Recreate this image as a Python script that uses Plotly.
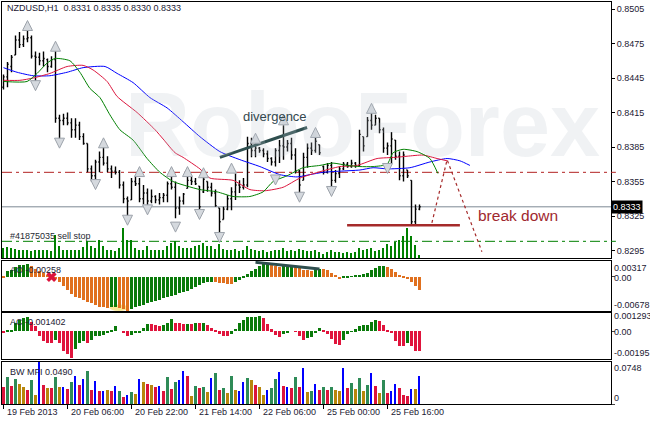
import plotly.graph_objects as go

# ---------------- data ----------------
symbol = "NZDUSD,H1"
bars = list(range(105))
tick_pos = [0, 16, 32, 48, 64, 80, 96]
tick_labels = ["19 Feb 2013", "20 Feb 06:00", "20 Feb 22:00", "21 Feb 14:00",
               "22 Feb 06:00", "25 Feb 00:00", "25 Feb 16:00"]
price_ticks = [0.8505, 0.8475, 0.8445, 0.8415, 0.8385, 0.8355, 0.8325, 0.8295]

opens = [0.8437,0.8446,0.8455,0.8465,0.8478,0.8474,0.8479,0.8480,0.8464,0.8463,
         0.8460,0.8461,0.8455,0.8461,0.8410,0.8408,0.8410,0.8406,0.8400,0.8404,
         0.8394,0.8388,0.8366,0.8360,0.8372,0.8376,0.8371,0.8366,0.8364,0.8363,
         0.8352,0.8340,0.8339,0.8355,0.8353,0.8340,0.8345,0.8338,0.8342,0.8339,
         0.8341,0.8343,0.8353,0.8350,0.8332,0.8338,0.8349,0.8356,0.8355,0.8351,
         0.8346,0.8355,0.8350,0.8345,0.8332,0.8322,0.8331,0.8340,0.8346,0.8352,
         0.8350,0.8352,0.8388,0.8382,0.8384,0.8382,0.8379,0.8375,0.8372,0.8382,
         0.8386,0.8385,0.8388,0.8378,0.8364,0.8356,0.8376,0.8384,0.8382,0.8387,
         0.8368,0.8363,0.8369,0.8356,0.8362,0.8366,0.8370,0.8368,0.8371,0.8369,
         0.8394,0.8394,0.8408,0.8404,0.8410,0.8400,0.8384,0.8386,0.8391,0.8377,
         0.8360,0.8365,0.8356,0.8320,0.8331]
highs = [0.8448,0.8459,0.8465,0.8482,0.8485,0.8482,0.8488,0.8482,0.8468,0.8467,
         0.8468,0.8462,0.8464,0.8472,0.8413,0.8414,0.8415,0.8410,0.8410,0.8407,
         0.8397,0.8388,0.8369,0.8374,0.8381,0.8385,0.8377,0.8369,0.8368,0.8365,
         0.8355,0.8342,0.8358,0.8360,0.8358,0.8352,0.8349,0.8348,0.8343,0.8345,
         0.8345,0.8355,0.8360,0.8355,0.8342,0.8345,0.8361,0.8359,0.8358,0.8351,
         0.8360,0.8355,0.8354,0.8348,0.8332,0.8333,0.8343,0.8350,0.8362,0.8356,
         0.8358,0.8394,0.8393,0.8388,0.8385,0.8384,0.8382,0.8376,0.8384,0.8391,
         0.8404,0.8391,0.8393,0.8384,0.8365,0.8380,0.8388,0.8389,0.8393,0.8387,
         0.8369,0.8371,0.8372,0.8365,0.8368,0.8372,0.8372,0.8374,0.8372,0.8400,
         0.8394,0.8411,0.8415,0.8413,0.8410,0.8402,0.8389,0.8398,0.8391,0.8381,
         0.8381,0.8365,0.8356,0.8335,0.8335]
lows = [0.8435,0.8437,0.8450,0.8465,0.8471,0.8472,0.8476,0.8462,0.8442,0.8456,
        0.8455,0.8450,0.8454,0.8406,0.8391,0.8404,0.8404,0.8393,0.8393,0.8391,
        0.8387,0.8363,0.8355,0.8355,0.8363,0.8369,0.8363,0.8358,0.8361,0.8349,
        0.8336,0.8324,0.8339,0.8351,0.8337,0.8335,0.8333,0.8336,0.8336,0.8335,
        0.8337,0.8337,0.8348,0.8323,0.8326,0.8335,0.8349,0.8352,0.8352,0.8328,
        0.8345,0.8346,0.8342,0.8333,0.8310,0.8322,0.8330,0.8330,0.8339,0.8345,
        0.8348,0.8350,0.8376,0.8376,0.8380,0.8376,0.8372,0.8369,0.8368,0.8371,
        0.8374,0.8381,0.8374,0.8362,0.8345,0.8356,0.8367,0.8378,0.8380,0.8378,
        0.8361,0.8362,0.8350,0.8354,0.8358,0.8365,0.8367,0.8367,0.8367,0.8368,
        0.8381,0.8394,0.8400,0.8404,0.8397,0.8380,0.8378,0.8371,0.8374,0.8356,
        0.8355,0.8358,0.8317,0.8317,0.8330]
closes = [0.8446,0.8457,0.8463,0.8478,0.8474,0.8479,0.8480,0.8464,0.8463,0.8460,
          0.8462,0.8455,0.8461,0.8410,0.8408,0.8410,0.8406,0.8400,0.8404,0.8394,
          0.8388,0.8366,0.8360,0.8372,0.8376,0.8371,0.8366,0.8364,0.8363,0.8352,
          0.8340,0.8338,0.8355,0.8353,0.8340,0.8345,0.8338,0.8342,0.8339,0.8341,
          0.8343,0.8353,0.8350,0.8332,0.8338,0.8344,0.8356,0.8355,0.8353,0.8333,
          0.8357,0.8350,0.8345,0.8334,0.8320,0.8331,0.8340,0.8346,0.8352,0.8350,
          0.8352,0.8388,0.8382,0.8384,0.8382,0.8379,0.8375,0.8372,0.8382,0.8386,
          0.8385,0.8388,0.8378,0.8364,0.8352,0.8376,0.8384,0.8382,0.8390,0.8380,
          0.8363,0.8369,0.8356,0.8362,0.8366,0.8370,0.8368,0.8371,0.8369,0.8396,
          0.8386,0.8408,0.8404,0.8410,0.8400,0.8384,0.8386,0.8392,0.8377,0.8360,
          0.8378,0.8360,0.8320,0.8331,0.8333]

volumes = [400,440,400,360,320,320,320,280,320,320,320,320,280,920,480,320,320,320,320,320,
           440,680,480,400,720,480,320,320,280,400,1200,720,720,400,320,320,480,320,320,320,
           320,480,600,680,480,400,400,400,480,520,600,480,480,360,560,360,320,320,360,280,
           320,480,360,320,280,320,240,280,320,320,400,280,320,280,360,320,280,280,320,240,
           160,240,320,240,240,200,240,200,240,400,320,360,400,280,320,400,560,480,640,720,
           880,1200,880,520,120]

# Alligator lines (bar position, price)
jaw_x = [0,3.4,7.4,11.6,15.9,19.9,25.4,28.4,32.4,36.6,40.9,44.9,49.1,54.1,59.1,64.1,69.1,
         73.4,76.6,79.9,84.1,89.1,92.4,95.9,101.6,106.6,110.9,114.1,116.6]
jaw_y = [0.8454,0.8450,0.8447,0.8447,0.8450,0.8454,0.8455,0.8449,0.8441,0.8428,0.8419,
         0.8407,0.8394,0.8381,0.8374,0.8368,0.8361,0.8359,0.8361,0.8363,0.8364,0.8365,
         0.8367,0.8366,0.8367,0.8372,0.8375,0.8373,0.8369]
teeth_x = [0,4.1,7.4,11.6,15.9,19.9,22.4,25.9,28.4,33.4,37.9,39.9,42.9,44.9,49.1,51.6,
           57.4,61.6,65.4,69.9,74.1,78.6,84.1,88.4,93.4,97.9,100.9,104.9,108.4,110.9]
teeth_y = [0.8443,0.8443,0.8445,0.8449,0.8455,0.8456,0.8452,0.8442,0.8429,0.8415,0.8400,
           0.8392,0.8380,0.8376,0.8366,0.8358,0.8356,0.8348,0.8347,0.8350,0.8358,0.8363,
           0.8368,0.8369,0.8375,0.8376,0.8377,0.8378,0.8375,0.8373]
lips_x = [0,5.9,8.4,10.9,12.9,16.6,19.1,21.6,24.1,26.6,29.1,32.4,35.9,39.1,42.4,45.9,49.1,
          53.4,57.4,61.6,64.9,67.4,70.9,74.9,79.1,82.4,85.9,89.1,92.4,95.9,97.4,99.9,103.4,
          106.6,108.6]
lips_y = [0.8442,0.8442,0.8449,0.8458,0.8462,0.8460,0.8450,0.8436,0.8428,0.8413,0.8400,
          0.8391,0.8375,0.8363,0.8355,0.8351,0.8348,0.8346,0.8342,0.8342,0.8346,0.8355,
          0.8360,0.8367,0.8369,0.8371,0.8369,0.8368,0.8368,0.8370,0.8380,0.8383,0.8381,
          0.8375,0.8362]

# Fractals
frac_up_x = [6, 13, 25, 34, 42, 46, 50, 57, 63, 70, 78, 92]
frac_up_y = [0.8495,0.8477,0.8393,0.8368,0.8368,0.8368,0.8367,0.8371,0.8397,0.8413,0.8402,0.8423]
frac_dn_x = [8, 14, 23, 31, 36, 43, 49, 54, 68, 74, 82, 96]
frac_dn_y = [0.8434,0.8384,0.8348,0.8317,0.8326,0.8311,0.8322,0.8302,0.8352,0.8337,0.8342,0.8362]

# order / analysis levels
bid_level = 0.8333
stop_level = 0.8363
sell_stop_level = 0.8303
order_label = "#41875035 sell stop"
breakdown_x = [85.9, 114.1]
breakdown_y = [0.8317, 0.8317]
forecast_x = [107.1, 110.9, 119.6]
forecast_y = [0.8319, 0.8374, 0.8294]
divergence_x = [54.1, 75.9]
divergence_y = [0.8376, 0.8402]

# Awesome Oscillator
ao = [-0.0001,0.0011,0.0014,0.0019,0.0023,0.0024,0.0025,0.0022,0.0016,0.0012,
      0.0007,0.0004,0.0001,-0.0004,-0.0011,-0.0018,-0.0026,-0.0034,-0.0039,-0.0041,
      -0.0046,-0.0049,-0.0052,-0.0056,-0.0059,-0.0060,-0.0061,-0.0060,-0.0059,-0.0061,
      -0.0064,-0.0067,-0.0064,-0.0060,-0.0057,-0.0055,-0.0051,-0.0049,-0.0047,-0.0045,
      -0.0042,-0.0040,-0.0038,-0.0035,-0.0032,-0.0030,-0.0028,-0.0025,-0.0021,-0.0016,
      -0.0013,-0.0011,-0.0010,-0.0011,-0.0012,-0.0013,-0.0014,-0.0015,-0.0011,-0.0006,
      -0.0001,0.0005,0.0012,0.0016,0.0022,0.0025,0.0027,0.0023,0.0022,0.0020,
      0.0021,0.0022,0.0023,0.0019,0.0018,0.0014,0.0013,0.0012,0.0015,0.0016,
      0.0015,0.0013,0.0008,0.0004,-0.0004,-0.0002,-0.0001,0.00005,0.0002,0.0004,
      0.0005,0.0007,0.0013,0.0017,0.0021,0.0022,0.0019,0.0015,0.0009,0.0003,
      -0.0001,-0.0004,-0.0011,-0.0019,-0.00258]
ao_div_x = [63, 79]
ao_div_y = [0.0029, 0.0016]

# Accelerator Oscillator
ac = [-0.00007,0.00005,0.00012,0.00058,0.00081,0.00095,0.00104,0.00069,0.00035,-0.00035,
      -0.00069,-0.00081,-0.00085,-0.00058,-0.00081,-0.00139,-0.0016,-0.0019,-0.00127,-0.00081,
      -0.00069,-0.00081,-0.00058,-0.00035,-0.00030,-0.00023,-0.00012,0.00012,0.00035,0.0,
      -0.00012,-0.00035,-0.00023,-0.00012,-0.00005,0.00023,0.00053,0.00049,0.00046,0.00039,
      0.00046,0.00058,0.00085,0.00062,0.00060,0.00053,0.00055,0.00053,0.00058,0.00056,
      0.00062,0.00048,0.00025,0.00007,-0.0002,-0.00032,-0.00035,-0.0002,0.0002,0.0006,
      0.0008,0.00098,0.0010,0.00104,0.00106,0.00097,0.00055,0.00014,-0.00028,-0.0004,
      -0.0002,-0.0001,0.0,-0.00002,-0.00032,-0.0006,-0.00049,-0.0004,-0.0001,0.00025,
      0.00012,-0.00016,-0.00055,-0.0009,-0.00095,-0.0006,-0.0002,-0.00002,0.00014,0.00037,
      0.00044,0.00048,0.00065,0.00083,0.00076,0.00048,0.00007,-0.0001,-0.0007,-0.0010,
      -0.00102,-0.0008,-0.0010,-0.00136,-0.001402]

# Market Facilitation Index and bar state (g=green, r=squat, y=fade, b=fake)
bw_mfi = [0.0297,0.0475,0.0326,0.0445,0.0356,0.0297,0.0249,0.0433,0.0160,0.0748,
          0.0338,0.0285,0.0285,0.0475,0.0297,0.0297,0.0267,0.0386,0.0504,0.0338,
          0.0445,0.0593,0.0255,0.0415,0.0237,0.0237,0.0255,0.0237,0.0326,0.0237,
          0.0119,0.0160,0.0219,0.0178,0.0445,0.0397,0.0356,0.0338,0.0308,0.0315,
          0.0237,0.0475,0.0267,0.0397,0.0433,0.0593,0.0504,0.0148,0.0315,0.0279,
          0.0308,0.0219,0.0457,0.0546,0.0255,0.0290,0.0190,0.0493,0.0255,0.0237,
          0.0386,0.0457,0.0433,0.0344,0.0308,0.0166,0.0255,0.0279,0.0445,0.0564,
          0.0326,0.0308,0.0290,0.0486,0.0308,0.0646,0.0208,0.0237,0.0356,0.0255,
          0.0308,0.0255,0.0308,0.0255,0.0237,0.0646,0.0290,0.0379,0.0272,0.0468,
          0.0237,0.0344,0.0557,0.0326,0.0201,0.0433,0.0201,0.0237,0.0361,0.0290,
          0.0166,0.0148,0.0272,0.0272,0.0490]
bw_state = list("rgrgyyrgyb" "ryrgybrgbr" "bgrbrbyrbg" "rbgybyryrb"
                "rgrgbbrygr" "gybgrgygyb" "bgyryybggb" "rbrgrbygbr"
                "grgyybrgyg" "ygbrygrbbr" "rrbyb")

# ---------------- layout helpers ----------------
FONT = "Liberation Sans, Arial, sans-serif"
W, H = 650, 422
L, R, T, B = 2, 39, 2, 18
PW, PH = W - L - R, H - T - B
def px(x): return (x - L) / PW
def py(y): return (H - B - y) / PH

X_RANGE = [-0.375, 151.875]
MAIN_RANGE = [0.82885, 0.85111]
AO_RANGE = [-0.00678, 0.00317]
AC_RANGE = [-0.00195, 0.001293]
BW_RANGE = [0, 0.0748]

fig = go.Figure()

# volumes (overlay on main panel)
fig.add_trace(go.Bar(x=bars, y=volumes, xaxis="x", yaxis="y5", width=0.28,
                     marker=dict(color="#008000", line=dict(width=0)), hoverinfo="skip"))

# price bars
fig.add_trace(go.Ohlc(x=bars, open=opens, high=highs, low=lows, close=closes,
                      xaxis="x", yaxis="y", tickwidth=0.3,
                      increasing=dict(line=dict(color="black", width=1.4)),
                      decreasing=dict(line=dict(color="black", width=1.4)),
                      hoverinfo="skip"))

# alligator
for xs, ys, col in [(jaw_x, jaw_y, "#0000FF"), (teeth_x, teeth_y, "#DC143C"),
                    (lips_x, lips_y, "#008000")]:
    fig.add_trace(go.Scatter(x=xs, y=ys, mode="lines", xaxis="x", yaxis="y",
                             line=dict(color=col, width=1, shape="spline", smoothing=0.6),
                             hoverinfo="skip"))

# analysis lines
fig.add_trace(go.Scatter(x=divergence_x, y=divergence_y, mode="lines", xaxis="x", yaxis="y",
                         line=dict(color="#2F4F4F", width=3), hoverinfo="skip"))
fig.add_trace(go.Scatter(x=breakdown_x, y=breakdown_y, mode="lines", xaxis="x", yaxis="y",
                         line=dict(color="#A52A2A", width=2.5), hoverinfo="skip"))
fig.add_trace(go.Scatter(x=forecast_x, y=forecast_y, mode="lines", xaxis="x", yaxis="y",
                         line=dict(color="#A52A2A", width=1.2, dash="dot"), hoverinfo="skip"))

# fractals
fig.add_trace(go.Scatter(x=frac_up_x, y=frac_up_y, mode="markers", xaxis="x", yaxis="y",
                         marker=dict(symbol="arrow-up", size=10, color="#D5D9DE",
                                     line=dict(color="#9DA3AB", width=1)), hoverinfo="skip"))
fig.add_trace(go.Scatter(x=frac_dn_x, y=frac_dn_y, mode="markers", xaxis="x", yaxis="y",
                         marker=dict(symbol="arrow-down", size=10, color="#D5D9DE",
                                     line=dict(color="#9DA3AB", width=1)), hoverinfo="skip"))

# AO
ao_cols = ["#0A7A0A" if i > 0 and ao[i] > ao[i - 1] else "#E0701E" for i in range(len(ao))]
fig.add_trace(go.Bar(x=bars, y=ao, xaxis="x2", yaxis="y2", width=0.75,
                     marker=dict(color=ao_cols, line=dict(width=0)), hoverinfo="skip"))
fig.add_trace(go.Scatter(x=ao_div_x, y=ao_div_y, mode="lines", xaxis="x2", yaxis="y2",
                         line=dict(color="#2F4F4F", width=3), hoverinfo="skip"))
fig.add_trace(go.Scatter(x=[12], y=[0.0], mode="markers", xaxis="x2", yaxis="y2",
                         marker=dict(symbol="x", size=9, color="#DC143C"), hoverinfo="skip"))

# AC
ac_cols = ["#0A7A0A" if i > 0 and ac[i] > ac[i - 1] else "#E0143C" for i in range(len(ac))]
fig.add_trace(go.Bar(x=bars, y=ac, xaxis="x3", yaxis="y3", width=0.75,
                     marker=dict(color=ac_cols, line=dict(width=0)), hoverinfo="skip"))

# BW MFI
state_col = {"g": "#2E8B57", "r": "#DC143C", "y": "#B8860B", "b": "#0000FF"}
bw_cols = [state_col[s] for s in bw_state]
bw_w = [0.28 if s == "b" else 0.75 for s in bw_state]
fig.add_trace(go.Bar(x=bars, y=bw_mfi, xaxis="x4", yaxis="y4", width=bw_w,
                     marker=dict(color=bw_cols, line=dict(width=0)), hoverinfo="skip"))

axis_common = dict(showline=True, mirror=True, linecolor="black", linewidth=1,
                   showgrid=False, zeroline=False, fixedrange=True)

shapes = [
    dict(type="line", xref="paper", x0=0, x1=1, yref="y", y0=bid_level, y1=bid_level,
         line=dict(color="#7D8894", width=1), layer="below"),
    dict(type="line", xref="paper", x0=0, x1=1, yref="y", y0=stop_level, y1=stop_level,
         line=dict(color="#B22222", width=1, dash="10px,4px,3px,4px"), layer="below"),
    dict(type="line", xref="paper", x0=0, x1=1, yref="y", y0=sell_stop_level, y1=sell_stop_level,
         line=dict(color="#008000", width=1, dash="10px,4px,3px,4px"), layer="below"),
    dict(type="line", xref="paper", x0=1.0, x1=1.008, yref="y", y0=stop_level, y1=stop_level,
         line=dict(color="#B22222", width=1)),
    dict(type="line", xref="paper", x0=1.0, x1=1.008, yref="y", y0=sell_stop_level, y1=sell_stop_level,
         line=dict(color="#008000", width=1)),
    dict(type="circle", xref="x2", yref="y2", x0=26.5, x1=31.2, y0=-0.00678, y1=-0.0055,
         fillcolor="#F6E27A", opacity=0.8, line=dict(width=0), layer="below"),
]

TXT = "#1C2033"
ann = []
# watermark
ann.append(dict(x=px(362), y=py(73), xref="paper", yref="paper", text="<b>RoboForex</b>",
                showarrow=False, font=dict(family=FONT, size=90, color="rgba(185,195,205,0.22)")))
ann.append(dict(x=px(5), y=py(8), xref="paper", yref="paper", xanchor="left", yanchor="middle",
                text=f"{symbol}\u00a0\u00a0{opens[-1]:.4f} {highs[-1]:.4f} {lows[-1]:.4f} {closes[-1]:.4f}",
                showarrow=False, font=dict(family=FONT, size=9, color=TXT)))
ann.append(dict(x=px(8), y=py(236), xref="paper", yref="paper", xanchor="left", yanchor="middle",
                text=order_label, showarrow=False, font=dict(family=FONT, size=9, color="#262a33")))
ann.append(dict(x=px(275), y=py(117), xref="paper", yref="paper", xanchor="center", yanchor="middle",
                text="divergence", showarrow=False, font=dict(family=FONT, size=13, color="#34484F")))
ann.append(dict(x=px(518), y=py(215), xref="paper", yref="paper", xanchor="center", yanchor="middle",
                text="break down", showarrow=False, font=dict(family=FONT, size=15.5, color="#A0282E")))
ann.append(dict(x=px(8), y=py(270), xref="paper", yref="paper", xanchor="left", yanchor="middle",
                text=f"AO {ao[-1]:.5f}", showarrow=False, font=dict(family=FONT, size=9, color=TXT)))
ann.append(dict(x=px(8), y=py(322), xref="paper", yref="paper", xanchor="left", yanchor="middle",
                text=f"AC {ac[-1]:.6f}", showarrow=False, font=dict(family=FONT, size=9, color=TXT)))
ann.append(dict(x=px(8), y=py(372), xref="paper", yref="paper", xanchor="left", yanchor="middle",
                text=f"BW MFI {bw_mfi[-1]:.4f}", showarrow=False, font=dict(family=FONT, size=9, color=TXT)))
# right side scale labels of sub-windows
for txt, yy in [(f"{AO_RANGE[1]:.5f}", 268), ("0.00", 278), (f"{AO_RANGE[0]:.5f}", 305),
                (f"{AC_RANGE[1]:.6f}", 316), ("0.00", 332), (f"{AC_RANGE[0]:.5f}", 353),
                (f"{BW_RANGE[1]:.4f}", 368), ("0", 398)]:
    ann.append(dict(x=px(612), y=py(yy), xref="paper", yref="paper", xanchor="left", yanchor="middle",
                    text=txt, showarrow=False, font=dict(family=FONT, size=9, color=TXT)))
# current price box
ann.append(dict(x=1.0, y=bid_level, xref="paper", yref="y", xanchor="left", yanchor="middle",
                text=f"{closes[-1]:.4f}", showarrow=False, bgcolor="black", borderpad=1,
                font=dict(family=FONT, size=9, color="white")))
# time labels
for pos, lab in zip(tick_pos, tick_labels):
    ann.append(dict(x=pos, y=py(412), xref="x4", yref="paper", xanchor="left", yanchor="middle",
                    xshift=1, text=lab, showarrow=False, font=dict(family=FONT, size=9, color=TXT)))

fig.update_layout(
    width=W, height=H, margin=dict(l=L, r=R, t=T, b=B),
    paper_bgcolor="white", plot_bgcolor="white", showlegend=False, barmode="overlay",
    bargap=0, hovermode=False,
    xaxis=dict(axis_common, domain=[0, 1], anchor="y", range=X_RANGE, showticklabels=False,
               ticks="", matches="x4", rangeslider=dict(visible=False)),
    xaxis2=dict(axis_common, domain=[0, 1], anchor="y2", range=X_RANGE, showticklabels=False,
                ticks="", matches="x4"),
    xaxis3=dict(axis_common, domain=[0, 1], anchor="y3", range=X_RANGE, showticklabels=False,
                ticks="", matches="x4"),
    xaxis4=dict(axis_common, domain=[0, 1], anchor="y4", range=X_RANGE, showticklabels=False,
                ticks="outside", ticklen=4, tickcolor="black", tickvals=tick_pos),
    yaxis=dict(axis_common, domain=[py(258), 1.0], anchor="x", side="right", range=MAIN_RANGE,
               tickvals=price_ticks, tickformat=".4f", ticks="outside", ticklen=3, tickcolor="black",
               tickfont=dict(family=FONT, size=9, color=TXT)),
    yaxis5=dict(overlaying="y", range=[0, 10240], visible=False, fixedrange=True),
    yaxis2=dict(axis_common, domain=[py(311), py(261)], anchor="x2", side="right", range=AO_RANGE,
                tickvals=[0], ticks="outside", ticklen=3, showticklabels=False),
    yaxis3=dict(axis_common, domain=[py(359), py(313)], anchor="x3", side="right", range=AC_RANGE,
                tickvals=[0], ticks="outside", ticklen=3, showticklabels=False),
    yaxis4=dict(axis_common, domain=[0, py(362)], anchor="x4", side="right", range=BW_RANGE,
                tickvals=[0], ticks="outside", ticklen=3, showticklabels=False),
    shapes=shapes, annotations=ann,
)

fig.write_html("out.html", config={"displayModeBar": False},
               post_script="document.body.style.margin='0';document.body.style.overflow='hidden';")
